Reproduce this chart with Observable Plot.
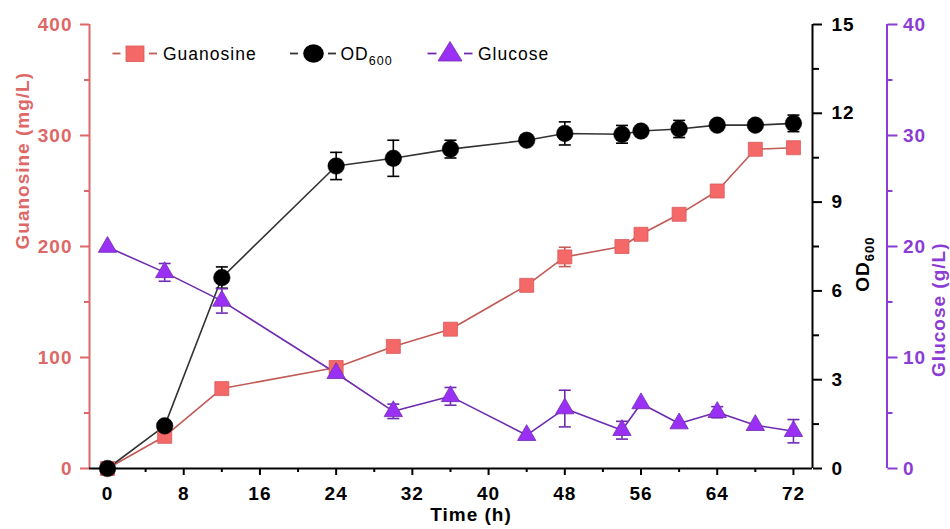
<!DOCTYPE html>
<html><head><meta charset="utf-8">
<script src="https://cdn.jsdelivr.net/npm/d3@7"></script>
<script src="https://cdn.jsdelivr.net/npm/@observablehq/plot@0.6"></script>
<style>
body{margin:0;background:#fff;}
#chart{position:relative;width:950px;height:529px;font-family:"Liberation Sans",Arial,sans-serif;}
#chart svg text{letter-spacing:1px;}
#legend{position:absolute;left:0;top:0;pointer-events:none;}
</style></head><body><div id="chart"></div>
<script>
// ---- data ----
const times = [0, 6, 12, 24, 30, 36, 44, 48, 54, 56, 60, 64, 68, 72];
const guanosine = [0, 29, 72, 91, 110, 125.5, 165, 190.6, 200, 211, 229, 250, 287.6, 289];
const guanosineErr = [0, 0, 0, 0, 0, 0, 0, 8.7, 0, 0, 0, 0, 0, 0];
const od600 = [0, 1.44, 6.45, 10.22, 10.48, 10.79, 11.09, 11.32, 11.29, 11.4, 11.47, 11.6, 11.6, 11.66];
const od600Err = [0, 0, 0.36, 0.46, 0.61, 0.3, 0, 0.39, 0.3, 0, 0.29, 0, 0, 0.28];
const glucose = [19.95, 17.67, 15.1, 8.58, 5.15, 6.5, 3.0, 5.4, 3.45, 5.86, 4.05, 5.07, 3.9, 3.36];
const glucoseErr = [0, 0.8, 1.1, 0, 0.65, 0.8, 0, 1.65, 0.8, 0, 0, 0.5, 0, 1.05];

const xTicks = [0, 8, 16, 24, 32, 40, 48, 56, 64, 72];
const xMinorTicks = [4, 12, 20, 28, 36, 44, 52, 60, 68];
const guanosineTicks = [0, 100, 200, 300, 400];
const guanosineMinor = [50, 150, 250, 350];
const odTicks = [0, 3, 6, 9, 12, 15];
const odMinor = [1.5, 4.5, 7.5, 10.5, 13.5];
const glucoseTicks = [0, 10, 20, 30, 40];
const glucoseMinor = [5, 15, 25, 35];

const xDomain = [-1.89, 74];
const gMax = 400, odMax = 15, gluMax = 40;

// ---- colours ----
const salmonAxis = "#DE6767", salmonFill = "#F46868", salmonLine = "#C25A56", salmonEdge = "#D85A5A";
const purpleAxis = "#8A3CD4", purpleFill = "#9B30F5", purpleLine = "#6E2BB0";
const odLine = "#333333";

// map OD and glucose onto guanosine scale units
const kOD = gMax / odMax, kGlu = gMax / gluMax;
const rows = times.map((t, i) => ({
  t,
  g: guanosine[i], ge: guanosineErr[i],
  od: od600[i] * kOD, ode: od600Err[i] * kOD,
  glu: glucose[i] * kGlu, glue: glucoseErr[i] * kGlu
}));

const cap = {draw(ctx, size) { const w = Math.sqrt(size / Math.PI); ctx.moveTo(-w, 0); ctx.lineTo(w, 0); }};
function errMarks(key, ekey, color) {
  const d = rows.filter(r => r[ekey] > 0);
  return [
    Plot.ruleX(d, {x: "t", y1: r => r[key] - r[ekey], y2: r => r[key] + r[ekey], stroke: color, strokeWidth: 1.6}),
    Plot.dot(d, {x: "t", y: r => r[key] + r[ekey], symbol: cap, r: 6, stroke: color, fill: "none", strokeWidth: 1.6}),
    Plot.dot(d, {x: "t", y: r => r[key] - r[ekey], symbol: cap, r: 6, stroke: color, fill: "none", strokeWidth: 1.6})
  ];
}

const axisFont = {fontSize: 19, fontWeight: "bold"};

const plot = Plot.plot({
  width: 950, height: 529,
  marginLeft: 89, marginRight: 138, marginTop: 24, marginBottom: 61,
  x: {domain: xDomain, label: null},
  y: {domain: [0, gMax], label: null},
  style: {fontFamily: '"Liberation Sans", Arial, sans-serif', fontSize: "19px", background: "white", overflow: "visible"},
  marks: [
    // axis lines
    Plot.ruleX([xDomain[0]], {stroke: salmonAxis, strokeWidth: 2}),
    Plot.ruleX([xDomain[1]], {stroke: "black", strokeWidth: 2}),
    Plot.ruleX([xDomain[1]], {stroke: purpleAxis, strokeWidth: 2, dx: 74.5}),
    Plot.ruleY([0], {stroke: "black", strokeWidth: 2}),
    // x axis
    Plot.axisX(xTicks, {anchor: "bottom", tickSize: 7, tickPadding: 11, strokeWidth: 2, color: "black", label: null, ...axisFont}),
    Plot.axisX(xMinorTicks, {anchor: "bottom", tickSize: 4, strokeWidth: 2, stroke: "black", fill: "none", label: null}),
    // guanosine axis (left)
    Plot.axisY(guanosineTicks, {anchor: "left", tickSize: 9, tickPadding: 8, strokeWidth: 2, color: salmonAxis, label: null, ...axisFont}),
    Plot.axisY(guanosineMinor, {anchor: "left", tickSize: 5, strokeWidth: 2, stroke: salmonAxis, fill: "none", label: null}),
    // OD axis (right)
    Plot.axisY(odTicks.map(v => v * kOD), {anchor: "right", tickSize: 9, tickPadding: 10, strokeWidth: 2, color: "black", label: null, tickFormat: v => String(Math.round(v / kOD)), ...axisFont}),
    Plot.axisY(odMinor.map(v => v * kOD), {anchor: "right", tickSize: 6, strokeWidth: 2, stroke: "black", fill: "none", label: null}),
    // glucose axis (outer right)
    Plot.axisY(glucoseTicks.map(v => v * kGlu), {anchor: "right", dx: 74.5, tickSize: 10, tickPadding: 6, strokeWidth: 2, color: purpleAxis, label: null, tickFormat: v => String(Math.round(v / kGlu)), ...axisFont}),
    Plot.axisY(glucoseMinor.map(v => v * kGlu), {anchor: "right", dx: 74.5, tickSize: 5, strokeWidth: 2, stroke: purpleAxis, fill: "none", label: null}),
    // axis titles
    Plot.text(["Guanosine (mg/L)"], {frameAnchor: "left", dx: -67, dy: 3, rotate: -90, fill: salmonAxis, fontWeight: "bold", fontSize: 19}),
    Plot.text(["OD600"], {frameAnchor: "right", dx: 50, dy: -10, rotate: -90, fill: "black", fontWeight: "bold", fontSize: 19}),
    Plot.text(["Glucose (g/L)"], {frameAnchor: "right", dx: 126, dy: -4, rotate: -90, fill: purpleAxis, fontWeight: "bold", fontSize: 19}),
    Plot.text(["Time (h)"], {frameAnchor: "bottom", dx: 20, dy: 52, fill: "black", fontWeight: "bold", fontSize: 19}),
    // series lines
    Plot.line(rows, {x: "t", y: "g", stroke: salmonLine, strokeWidth: 1.6}),
    Plot.line(rows, {x: "t", y: "od", stroke: odLine, strokeWidth: 1.6}),
    Plot.line(rows, {x: "t", y: "glu", stroke: purpleLine, strokeWidth: 1.6}),
    // error bars
    ...errMarks("g", "ge", salmonLine),
    ...errMarks("od", "ode", "black"),
    ...errMarks("glu", "glue", purpleLine),
    // markers
    Plot.dot(rows, {x: "t", y: "g", symbol: "square", r: 7.9, fill: salmonFill, stroke: salmonEdge, strokeWidth: 0.8}),
    Plot.dot(rows, {x: "t", y: "od", symbol: "circle", r: 8.3, fill: "black", stroke: "black", strokeWidth: 0.5}),
    Plot.dot(rows, {x: "t", y: "glu", symbol: "triangle", r: 6.8, fill: purpleFill, stroke: purpleLine, strokeWidth: 0.8})
  ]
});

const chart = document.getElementById("chart");
chart.appendChild(plot);

// subscript for OD600 title
plot.querySelectorAll("text").forEach(el => {
  if (el.textContent === "OD600") {
    el.textContent = "OD";
    const ts = document.createElementNS("http://www.w3.org/2000/svg", "tspan");
    ts.setAttribute("dy", "5");
    ts.setAttribute("font-size", "13");
    ts.textContent = "600";
    el.appendChild(ts);
  }
});

// legend overlay
const legendItems = [
  {label: "Guanosine", sub: null, kind: "square"},
  {label: "OD", sub: "600", kind: "circle"},
  {label: "Glucose", sub: null, kind: "triangle"}
];
const ns = "http://www.w3.org/2000/svg";
const lg = document.createElementNS(ns, "svg");
lg.setAttribute("id", "legend");
lg.setAttribute("width", 950);
lg.setAttribute("height", 100);
const lay = [
  {l1: [112.5, 120.5], cx: 135, l2: [149, 157], tx: 163, line: salmonLine},
  {l1: [290, 298], cx: 313.5, l2: [328, 336], tx: 340.5, line: odLine},
  {l1: [427.5, 436.5], cx: 450, l2: [464, 472.5], tx: 478, line: purpleLine}
];
legendItems.forEach((it, i) => {
  const L = lay[i], cy = 53.5;
  for (const seg of [L.l1, L.l2]) {
    const ln = document.createElementNS(ns, "line");
    ln.setAttribute("x1", seg[0]); ln.setAttribute("x2", seg[1]);
    ln.setAttribute("y1", cy); ln.setAttribute("y2", cy);
    ln.setAttribute("stroke", L.line); ln.setAttribute("stroke-width", 1.8);
    lg.appendChild(ln);
  }
  let m;
  if (it.kind === "square") {
    m = document.createElementNS(ns, "rect");
    m.setAttribute("x", L.cx - 9); m.setAttribute("y", cy - 7.5);
    m.setAttribute("width", 18); m.setAttribute("height", 15.5);
    m.setAttribute("fill", salmonFill); m.setAttribute("stroke", salmonEdge); m.setAttribute("stroke-width", 0.8);
  } else if (it.kind === "circle") {
    m = document.createElementNS(ns, "ellipse");
    m.setAttribute("cx", L.cx); m.setAttribute("cy", cy);
    m.setAttribute("rx", 10.3); m.setAttribute("ry", 9.3);
    m.setAttribute("fill", "black");
  } else {
    m = document.createElementNS(ns, "polygon");
    m.setAttribute("points", `${L.cx},${cy - 12} ${L.cx - 12},${cy + 7.5} ${L.cx + 12},${cy + 7.5}`);
    m.setAttribute("fill", purpleFill); m.setAttribute("stroke", purpleLine); m.setAttribute("stroke-width", 0.8);
  }
  lg.appendChild(m);
  const tx = document.createElementNS(ns, "text");
  tx.setAttribute("x", L.tx); tx.setAttribute("y", cy + 6.5);
  tx.setAttribute("font-size", "17.5");
  tx.setAttribute("font-family", '"Liberation Sans", Arial, sans-serif');
  tx.setAttribute("letter-spacing", "0.9");
  tx.setAttribute("fill", "black");
  tx.textContent = it.label;
  if (it.sub) {
    const ts = document.createElementNS(ns, "tspan");
    ts.setAttribute("dy", "4.5");
    ts.setAttribute("font-size", "12.5");
    ts.textContent = it.sub;
    tx.appendChild(ts);
  }
  lg.appendChild(tx);
});
chart.appendChild(lg);
</script></body></html>
